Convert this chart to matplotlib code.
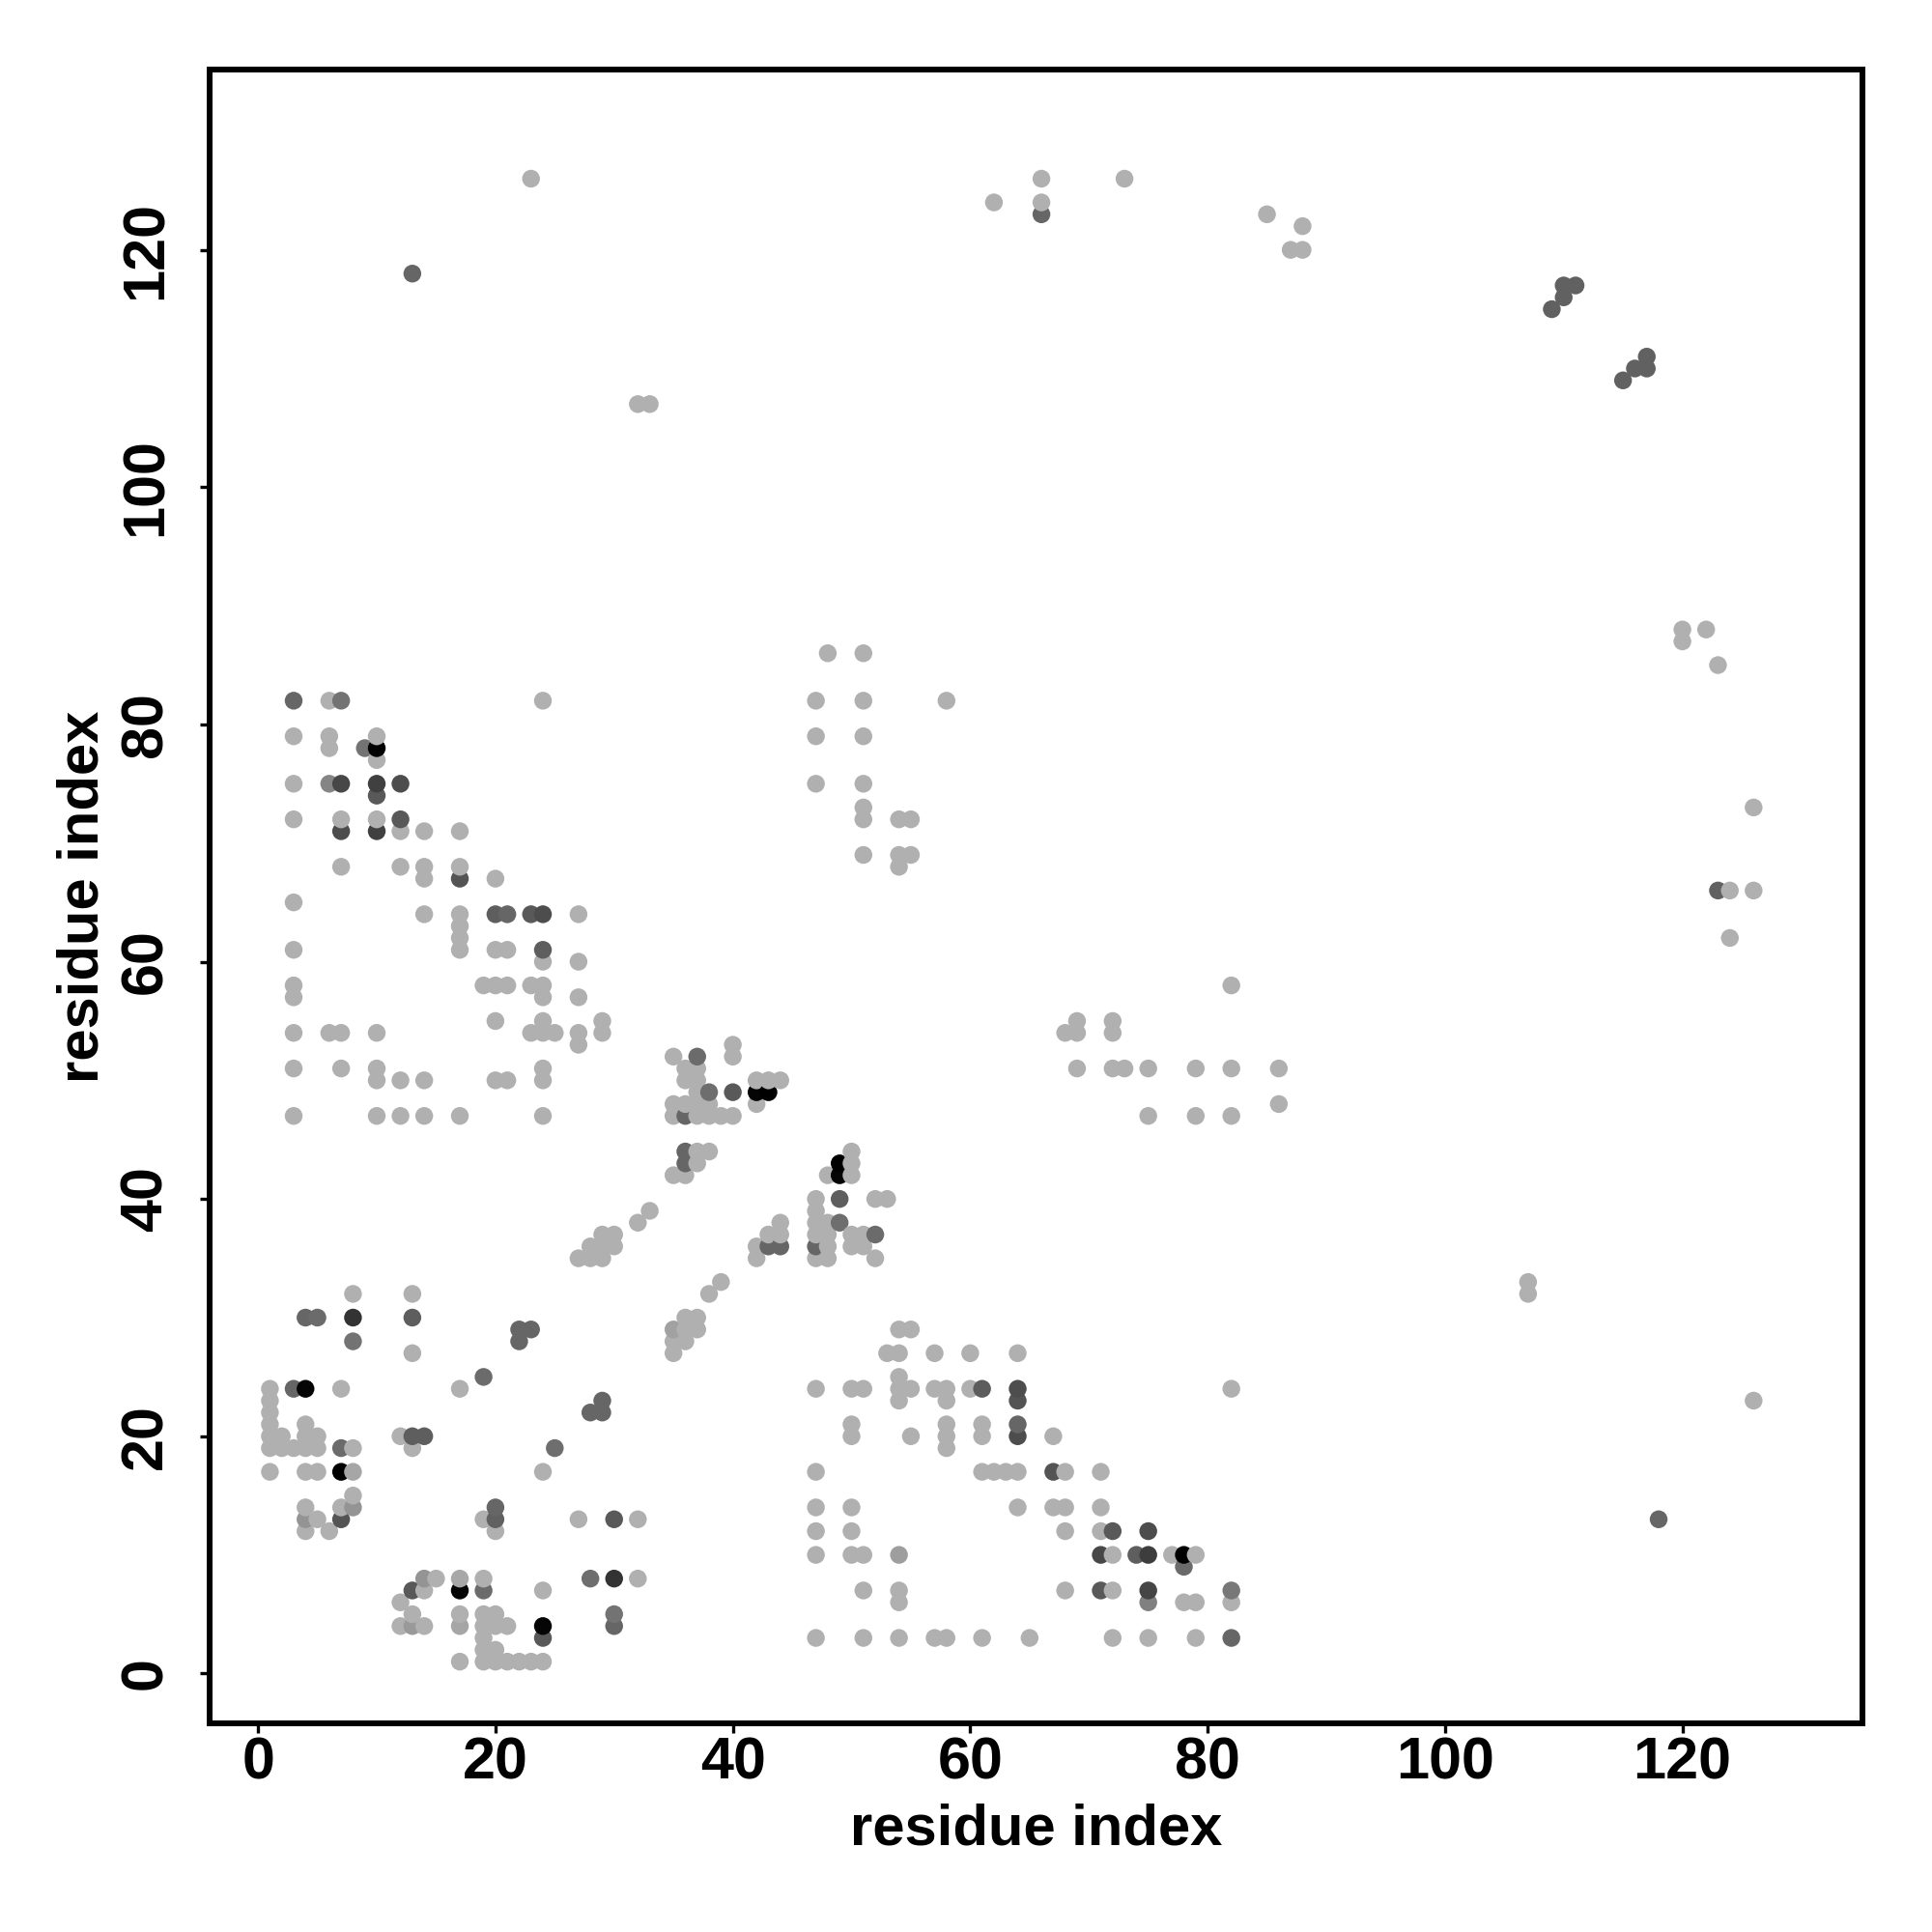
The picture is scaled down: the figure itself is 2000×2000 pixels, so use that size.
import numpy as np
import matplotlib
matplotlib.use("Agg")
import matplotlib.pyplot as plt

plt.rcParams['font.family'] = ['Liberation Sans', 'DejaVu Sans']
plt.rcParams['font.weight'] = 'bold'

ticks = [0, 20, 40, 60, 80, 100, 120]
axis_label = "residue index"
light_shade = 0.69

# contacts at the lightest shade (residue x, residue y)
light_points = [
    # bottom left block
    (8,32),(13,32),(13,27),(7,24),(17,24),(1,24),(1,23),(1,22),(1,21),(4,21),
    (1,20),(2,20),(4,20),(5,20),(12,20),(1,19),(2,19),(3,19),(4,19),(5,19),(8,19),(13,19),
    (1,17),(4,17),(5,17),(24,17),(8,15),(4,14),(7,14),(5,13),(19,13),(27,13),(32,13),
    (4,12),(6,12),(20,12),(15,8),(19,8),(32,8),(14,7),(24,7),(12,6),(13,5),(17,5),(19,5),(20,5),
    (12,4),(14,4),(19,4),(20,4),(21,4),(19,3),(19,2),(20,2),
    (17,1),(19,1),(20,1),(21,1),(22,1),(23,1),(24,1),
    # upper left block
    (6,82),(24,82),(6,79),(10,79),(6,78),(10,77),(3,75),(3,72),(7,72),(10,72),(12,71),
    (7,68),(12,68),(20,67),(3,65),(14,67),(14,64),(17,64),(27,64),(17,63),(17,62),
    (3,61),(17,61),(20,61),(21,61),(24,60),(19,58),(20,58),(21,58),(23,58),(24,58),(24,57),
    (20,55),(24,55),(29,55),(23,54),(24,54),(25,54),(27,54),(29,54),(6,54),(27,53),
    (3,51),(7,51),(10,51),(24,51),(10,50),(12,50),(14,50),(20,50),(21,50),(24,50),
    (3,47),(10,47),(12,47),(14,47),(17,47),(24,47),(3,58),(3,57),(3,54),(7,54),(10,54),(27,60),(27,57),
    (14,71),(17,71),(14,68),(17,68),(3,79),
    # diagonal band
    (35,52),(40,53),(40,52),(36,51),(37,51),(36,50),(37,50),(42,50),(43,50),(44,50),
    (37,49),(35,48),(36,48),(37,48),(38,48),(42,48),(35,47),(37,47),(38,47),(39,47),(40,47),
    (37,44),(38,44),(37,43),(35,42),(36,42),(48,42),(50,44),(50,43),(50,42),(52,40),(53,40),
    (47,40),(47,39),(47,38),(48,38),(44,38),(43,37),(44,37),(47,37),(48,37),(50,37),(51,37),
    (42,36),(47,35),(48,36),(50,36),(51,36),(42,35),(48,35),(52,35),(33,39),(32,38),
    (29,37),(30,37),(28,36),(29,36),(30,36),(27,35),(28,35),(29,35),(39,33),(38,32),
    (36,30),(37,30),(35,29),(36,29),(37,29),(35,28),(36,28),(35,27),
    # bottom right block
    (54,29),(55,29),(53,27),(54,27),(57,27),(60,27),(64,27),(54,25),
    (47,24),(50,24),(51,24),(54,24),(55,24),(57,24),(58,24),(60,24),(82,24),(54,23),(58,23),
    (50,21),(58,21),(61,21),(50,20),(55,20),(58,20),(61,20),(67,20),(58,19),
    (47,17),(61,17),(62,17),(63,17),(64,17),(68,17),(71,17),(47,14),(50,14),(64,14),(67,14),(68,14),(71,14),
    (47,12),(50,12),(68,12),(71,12),(47,10),(50,10),(51,10),(72,10),(77,10),(79,10),
    (51,7),(54,7),(68,7),(72,7),(54,6),(78,6),(79,6),(82,6),
    (47,3),(51,3),(54,3),(57,3),(58,3),(61,3),(65,3),(72,3),(75,3),(79,3),
    # right of centre block
    (82,58),(68,54),(69,55),(69,54),(72,55),(72,54),(69,51),(72,51),(73,51),(75,51),(79,51),(82,51),(86,51),
    (86,48),(75,47),(79,47),(82,47),
    (48,86),(51,86),(47,82),(51,82),(58,82),(47,79),(51,79),(47,75),(51,75),(51,73),(51,72),
    (54,72),(55,72),(51,69),(54,69),(55,69),(54,68),
    # far contacts
    (23,126),(32,107),(33,107),(62,124),(66,126),(66,124),(73,126),(85,123),(88,122),(87,120),(88,120),
    (120,88),(120,87),(122,88),(123,85),(126,73),(124,66),(126,66),(124,62),(107,33),(107,32),(126,23),
]

# contacts with a darker shade (residue x, residue y, grey level)
shaded_points = [
    (4,30,.40),(5,30,.42),(8,30,.20),(13,30,.37),(8,28,.45),(22,29,.40),(23,29,.40),(22,28,.40),
    (19,25,.42),(3,24,.40),(4,24,.02),(29,23,.40),(28,22,.40),(29,22,.40),(13,20,.37),(14,20,.37),
    (7,19,.42),(25,19,.43),(7,17,.0),(8,17,.65),(8,14,.58),(7,13,.33),(4,13,.58),(20,14,.40),(20,13,.38),(30,13,.35),
    (14,8,.58),(17,8,.66),(28,8,.43),(30,8,.20),(13,7,.35),(17,7,.02),(19,7,.42),(30,5,.45),
    (13,4,.60),(17,4,.65),(24,4,.02),(30,4,.40),(24,3,.35),
    (3,82,.40),(7,82,.45),(9,78,.45),(10,78,.0),(7,75,.28),(6,75,.52),(10,75,.25),(12,75,.30),(10,74,.35),
    (12,72,.35),(7,71,.30),(10,71,.25),(17,67,.33),
    (20,64,.37),(21,64,.40),(23,64,.35),(24,64,.30),(24,61,.37),
    (37,52,.42),(38,49,.43),(40,49,.35),(42,49,.02),(43,49,.0),(36,47,.40),(36,44,.40),(36,43,.40),
    (49,43,.0),(49,42,.02),(49,40,.37),(49,38,.43),(52,37,.42),(43,36,.40),(44,36,.40),(47,36,.40),
    (35,29,.63),(61,24,.36),(64,24,.30),(64,23,.33),(64,21,.40),(64,20,.30),(67,17,.33),
    (72,12,.35),(75,12,.30),(71,10,.28),(74,10,.37),(75,10,.24),(78,10,.0),(78,9,.42),
    (71,7,.35),(75,7,.27),(82,7,.47),(75,6,.50),(82,3,.40),(54,10,.62),
    (13,118,.40),(66,123,.40),(109,115,.38),(110,116,.38),(110,117,.38),(111,117,.38),
    (115,109,.38),(116,110,.38),(117,110,.38),(117,111,.38),(123,66,.38),(118,13,.40),
]

seen = {}
for px, py in light_points:
    seen[(px, py)] = light_shade
for px, py, g in shaded_points:
    seen[(px, py)] = g

xs = np.array([k[0] for k in seen])
ys = np.array([k[1] for k in seen])
greys = np.array(list(seen.values()))

# later points sit on top: by x, then y
order = np.lexsort((ys, xs))
xs, ys, greys = xs[order], ys[order], greys[order]

fig = plt.figure(figsize=(10, 10), dpi=200)
ax = fig.add_axes([216.5/2000, 1 - 1784/2000, (1928-216.5)/2000, (1784-72)/2000])

ax.scatter(xs, ys, s=44, c=[str(g) for g in greys], linewidths=0, clip_on=False)

ax.set_xlim(-4.12, 135.17)
ax.set_ylim(-4.2, 135.2)
ax.set_xticks(ticks)
ax.set_yticks(ticks)
ax.tick_params(axis='both', length=3.6, width=1.2, labelsize=22)
ax.tick_params(axis='x', pad=1.2)
ax.tick_params(axis='y', pad=9.4)
for lab in ax.get_yticklabels():
    lab.set_rotation(90)
    lab.set_va('center')
for s in ax.spines.values():
    s.set_linewidth(2.16)

ax.set_xlabel(axis_label, fontsize=21.5, fontweight='bold')
ax.set_ylabel(axis_label, fontsize=21.5, fontweight='bold')
ax.xaxis.set_label_coords(0.5, -0.048)
ax.yaxis.set_label_coords(-0.06, 0.5)

fig.savefig("out.png", dpi=200, facecolor="white")
